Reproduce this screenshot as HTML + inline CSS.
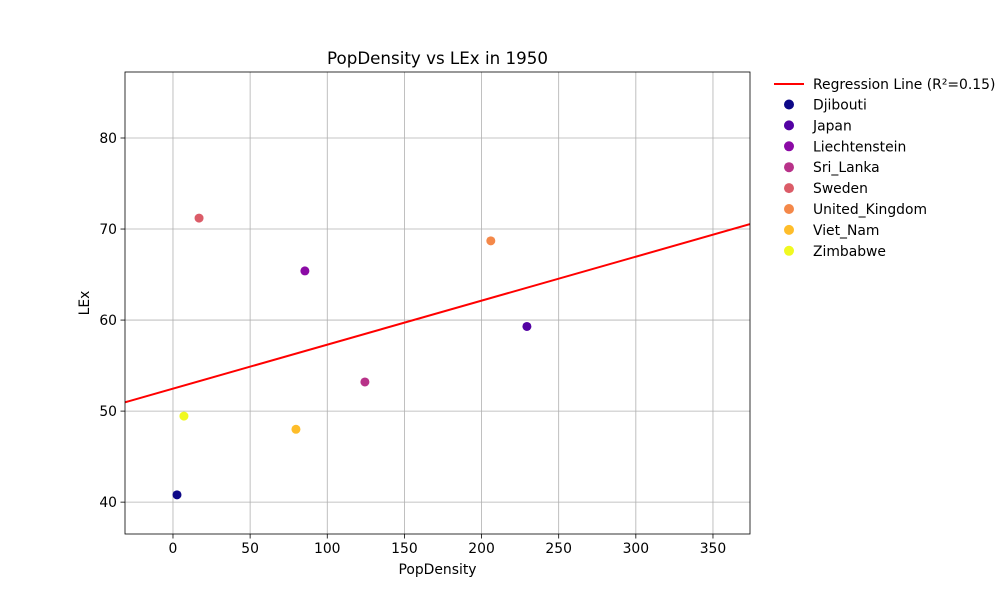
<!DOCTYPE html>
<html><head><meta charset="utf-8"><style>
body{margin:0;background:#fff;}
svg text{font-family:"DejaVu Sans","Liberation Sans",sans-serif;}
</style></head><body>
<svg id="chart" width="1000" height="600" xmlns="http://www.w3.org/2000/svg"></svg>
<script>
const countries=["Djibouti","Japan","Liechtenstein","Sri_Lanka","Sweden","United_Kingdom","Viet_Nam","Zimbabwe"];
const popDensity=[2.6,229.4,85.5,124.4,16.9,206,79.7,7.1];
const lex=[40.8,59.3,65.4,53.2,71.2,68.7,48.0,49.45];
const colors=["#0d0887","#5302a3","#8b0aa5","#b83289","#db5c68","#f48849","#febd2a","#f0f921"];
const xTicks=[0,50,100,150,200,250,300,350];
const yTicks=[40,50,60,70,80];
const r2Label="0.15";

const L=125,R=750,T=72,B=534;
const xMin=-31.1,xMax=374,yMin=36.5,yMax=87.25;
const sx=v=>L+(v-xMin)/(xMax-xMin)*(R-L);
const sy=v=>B-(v-yMin)/(yMax-yMin)*(B-T);
const svg=document.getElementById('chart');
const NS="http://www.w3.org/2000/svg";
function mk(tag,attrs,parent){const e=document.createElementNS(NS,tag);for(const k in attrs)e.setAttribute(k,attrs[k]);(parent||svg).appendChild(e);return e;}

xTicks.forEach(t=>{
  const g=mk('line',{x1:sx(t),x2:sx(t),y1:T,y2:B,stroke:'#b0b0b0','stroke-width':0.8});
  
  
  mk('line',{x1:sx(t),x2:sx(t),y1:B,y2:B+4.5,stroke:'#000','stroke-width':0.8});
  const tx=mk('text',{x:sx(t),y:B+19,'text-anchor':'middle','font-size':13.9});
  tx.textContent=t;
  
  
});
yTicks.forEach(t=>{
  const g=mk('line',{x1:L,x2:R,y1:sy(t),y2:sy(t),stroke:'#b0b0b0','stroke-width':0.8});
  
  
  mk('line',{x1:L-4.5,x2:L,y1:sy(t),y2:sy(t),stroke:'#000','stroke-width':0.8});
  const tx=mk('text',{x:L-8,y:sy(t)+5,'text-anchor':'end','font-size':13.9});
  tx.textContent=t;
  
  
});

const n=popDensity.length;
const mx=popDensity.reduce((a,b)=>a+b,0)/n, my=lex.reduce((a,b)=>a+b,0)/n;
let sxy=0,sxx=0;for(let i=0;i<n;i++){sxy+=(popDensity[i]-mx)*(lex[i]-my);sxx+=(popDensity[i]-mx)**2;}
const slope=sxy/sxx, icpt=my-slope*mx;
const cp=mk('clipPath',{id:'clip'});mk('rect',{x:L,y:T,width:R-L,height:B-T},cp);
const reg=mk('line',{x1:sx(xMin),y1:sy(icpt+slope*xMin),x2:sx(xMax),y2:sy(icpt+slope*xMax),stroke:'#ff0000','stroke-width':2,'clip-path':'url(#clip)'});



for(let i=0;i<n;i++){
  const c=mk('circle',{cx:sx(popDensity[i]),cy:sy(lex[i]),r:4.5,fill:colors[i]});
  
  
}

const fr=mk('rect',{x:L,y:T,width:R-L,height:B-T,fill:'none',stroke:'#000','stroke-width':0.8});



const title=mk('text',{x:(L+R)/2,y:64,'text-anchor':'middle','font-size':16.7});
title.textContent='PopDensity vs LEx in 1950';


const xl=mk('text',{x:(L+R)/2,y:574,'text-anchor':'middle','font-size':13.9});
xl.textContent='PopDensity';


const yl=mk('text',{x:89,y:(T+B)/2,'text-anchor':'middle','font-size':13.9,transform:`rotate(-90 89 ${(T+B)/2})`});
yl.textContent='LEx';



const lg=mk('line',{x1:774,x2:804,y1:84,y2:84,stroke:'#ff0000','stroke-width':2});


const lt=mk('text',{x:813,y:89,'font-size':13.9});
lt.textContent='Regression Line (R²='+r2Label+')';


for(let i=0;i<n;i++){
  const y=104.5+i*20.9;
  const c=mk('circle',{cx:789,cy:y,r:5,fill:colors[i]});
  
  
  const t=mk('text',{x:813,y:y+5,'font-size':13.9});
  t.textContent=countries[i];
  
  
}
</script>
</body></html>
